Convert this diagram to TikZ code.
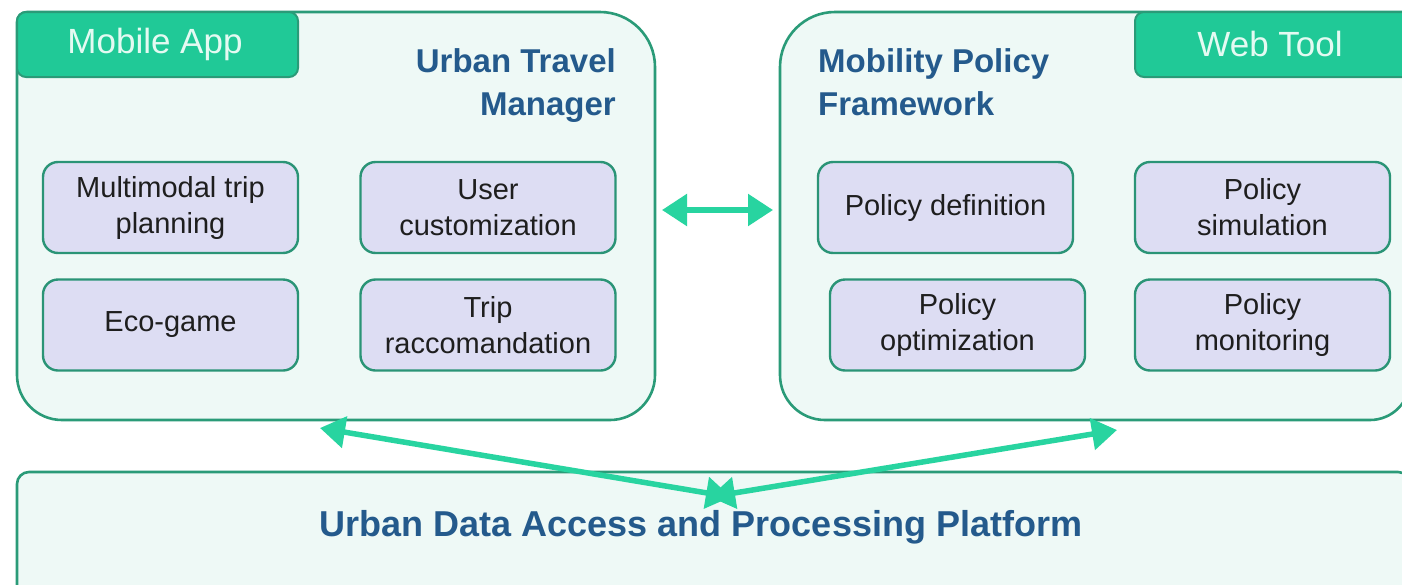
\documentclass[tikz,border=0pt]{standalone}
\usepackage{fontspec}
\setmainfont{Liberation Sans}
\usetikzlibrary{arrows.meta,calc}
\definecolor{tabfill}{RGB}{32,201,151}
\definecolor{contline}{RGB}{42,155,120}
\definecolor{contfill}{RGB}{238,249,246}
\definecolor{boxfill}{RGB}{221,221,243}
\definecolor{boxline}{RGB}{42,148,118}
\definecolor{arrowcol}{RGB}{40,212,160}
\definecolor{headblue}{RGB}{36,90,140}
\definecolor{tabtext}{RGB}{228,250,242}
\definecolor{bodytext}{RGB}{30,30,30}
\tikzset{
  cont/.style={draw=contline,fill=contfill,line width=2.6pt},
  tabbox/.style={draw=contline,fill=tabfill,line width=2pt,rounded corners=9pt},
  tabtxt/.style={text=tabtext,font=\fontsize{35}{40}\selectfont},
  headtxt/.style={text=headblue,font=\bfseries\fontsize{33}{43}\selectfont,inner sep=0pt},
  modbox/.style={draw=boxline,fill=boxfill,line width=2.4pt,rounded corners=15pt,
    minimum width=255pt,minimum height=91pt,align=center,text=bodytext,
    font=\fontsize{29}{36}\selectfont,inner sep=0pt},
  link/.style={draw=arrowcol,line width=5.5pt,{Triangle[length=25pt,width=31pt]}-{Triangle[length=25pt,width=31pt]}},
  hold/.style={inner sep=0pt,draw=none}
}
\begin{document}
\begin{tikzpicture}[x=1pt,y=-1pt]
\useasboundingbox (0,0) rectangle (1402,584);
\clip (0,0) rectangle (1402,584);
\fill[white] (0,0) rectangle (1402,584);
% containers (invisible holders)
\node[hold,minimum width=638pt,minimum height=408pt] (utm) at (336,216) {};
\node[hold,minimum width=630pt,minimum height=408pt] (mpf) at (1095,216) {};
\node[hold,minimum width=1393pt,minimum height=123pt] (plat) at (713.5,533.5) {};
% left container
\draw[cont] (17,216) [rounded corners=10pt] -- (17,12) [rounded corners=55pt] -- (655,12) [rounded corners=45pt] -- (655,420) [rounded corners=45pt] -- (17,420) [sharp corners] -- cycle;
% right container
\draw[cont] (1410,216) [sharp corners] -- (1410,12) [rounded corners=55pt] -- (780,12) [rounded corners=45pt] -- (780,420) [rounded corners=40pt] -- (1410,420) [sharp corners] -- cycle;
% platform
\draw[cont,rounded corners=12pt] (17,472) rectangle (1410,597);
% tabs
\draw[tabbox] (17,12) rectangle (298,77);
\node[tabtxt] (mobtxt) at (155,44) {Mobile App};
\draw[tabbox] (1135,12) rectangle (1415,77);
\node[tabtxt] (webtxt) at (1270,44) {Web Tool};
% headings
\node[headtxt,align=right,anchor=north east] (utmtitle) at (616,48) {Urban Travel\\Manager};
\node[headtxt,align=left,anchor=north west] (mpftitle) at (818,48) {Mobility Policy\\Framework};
\node[headtxt] (plattitle) at (701,527) {\fontsize{36}{40}\selectfont Urban Data Access and Processing Platform};
% modules
\node[modbox] (mtp) at (170.5,207.5) {Multimodal trip\\planning};
\node[modbox] (uc) at (488,207.5) {User\\customization};
\node[modbox] (eg) at (170.5,325) {Eco-game};
\node[modbox] (tr) at (488,325) {Trip\\raccomandation};
\node[modbox] (pd) at (945.5,207.5) {Policy definition};
\node[modbox] (ps) at (1262.5,207.5) {Policy\\simulation};
\node[modbox] (po) at (957.5,325) {Policy\\optimization};
\node[modbox] (pm) at (1262.5,325) {Policy\\monitoring};
% connectors
\coordinate (utmE) at (662,210);
\coordinate (mpfW) at (773,210);
\draw[link] (utmE) -- (mpfW);
\coordinate (utmS) at (320,428);
\coordinate (platA) at (731,497);
\coordinate (mpfS) at (1117,430);
\coordinate (platB) at (710,497);
\draw[link] (utmS) -- (platA);
\draw[link] (mpfS) -- (platB);
\end{tikzpicture}
\end{document}
